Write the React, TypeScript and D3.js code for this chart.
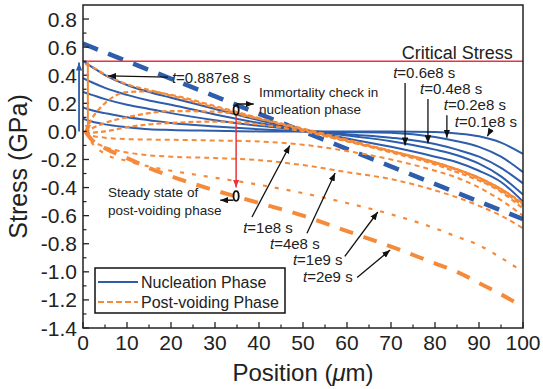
import React from "react";
import * as d3 from "d3";

// x positions (um) where the curves were read
const xsNuc = [0, 2, 5, 10, 15, 20, 30, 40, 50, 60, 70, 80, 85, 90, 95, 100];
const xsPost = [0.5, 2, 5, 10, 15, 20, 30, 40, 50, 60, 70, 80, 85, 90, 95, 100];

// nucleation phase (GPa), t = 0.1e8, 0.2e8, 0.4e8, 0.6e8, 0.887e8 s
const nuc01 = [0.09, 0.07, 0.05, 0.03, 0.015, 0.01, 0.005, 0.0, 0.0, 0.0, 0.0, -0.005, -0.015, -0.035, -0.08, -0.16];
const nuc02 = [0.17, 0.15, 0.13, 0.1, 0.08, 0.06, 0.035, 0.015, 0.0, -0.005, -0.01, -0.04, -0.07, -0.11, -0.18, -0.29];
const nuc04 = [0.28, 0.26, 0.23, 0.19, 0.16, 0.13, 0.08, 0.04, 0.01, -0.02, -0.045, -0.09, -0.13, -0.18, -0.26, -0.37];
const nuc06 = [0.38, 0.35, 0.31, 0.26, 0.22, 0.19, 0.12, 0.06, 0.01, -0.03, -0.07, -0.13, -0.17, -0.23, -0.32, -0.45];
const nuc0887 = [0.5, 0.46, 0.4, 0.33, 0.28, 0.24, 0.16, 0.08, 0.01, -0.05, -0.11, -0.18, -0.22, -0.28, -0.36, -0.5];
const nucleation = [nuc01, nuc02, nuc04, nuc06, nuc0887];

// steady state of nucleation phase
const steadyX = [0, 100];
const steadyNuc = [0.625, -0.625];

// post-voiding phase (GPa)
const postEarly1 = [0.48, 0.46, 0.405, 0.335, 0.295, 0.255, 0.17, 0.09, 0.01, -0.07, -0.14, -0.22, -0.27, -0.33, -0.41, -0.51];
const postEarly2 = [0.0, 0.09, 0.2, 0.28, 0.285, 0.26, 0.18, 0.095, 0.015, -0.065, -0.14, -0.22, -0.27, -0.33, -0.41, -0.52];
const postEarly3 = [-0.01, 0.02, 0.06, 0.1, 0.13, 0.145, 0.14, 0.09, 0.02, -0.06, -0.14, -0.225, -0.275, -0.34, -0.42, -0.53];
const postEarly4 = [-0.02, -0.01, 0.0, 0.03, 0.05, 0.06, 0.07, 0.05, 0.0, -0.07, -0.15, -0.235, -0.29, -0.35, -0.43, -0.55];
const post1e8 = [0, -0.03, -0.045, -0.055, -0.058, -0.06, -0.065, -0.072, -0.095, -0.14, -0.2, -0.28, -0.33, -0.4, -0.49, -0.6];
const post4e8 = [0, -0.06, -0.11, -0.15, -0.17, -0.18, -0.19, -0.205, -0.24, -0.29, -0.34, -0.42, -0.47, -0.53, -0.6, -0.69];
const post1e9 = [0, -0.08, -0.16, -0.21, -0.25, -0.28, -0.33, -0.38, -0.44, -0.51, -0.59, -0.69, -0.75, -0.81, -0.9, -1.0];
const post2e9 = [0, -0.06, -0.12, -0.19, -0.26, -0.32, -0.42, -0.51, -0.6, -0.71, -0.82, -0.94, -1.0, -1.08, -1.16, -1.25];

const criticalStress = 0.5;

const xTicks = [0, 10, 20, 30, 40, 50, 60, 70, 80, 90, 100];
const xMinor = [5, 15, 25, 35, 45, 55, 65, 75, 85, 95];
const yTicks = [-1.4, -1.2, -1.0, -0.8, -0.6, -0.4, -0.2, 0.0, 0.2, 0.4, 0.6, 0.8];
const yMinor = [-1.3, -1.1, -0.9, -0.7, -0.5, -0.3, -0.1, 0.1, 0.3, 0.5, 0.7];

// time labels: text anchor, arrow from, arrow to (data units)
const timeLabels = [
  { t: "=0.887e8 s", at: [20.2, 0.344], from: [19.3, 0.387], to: [5.7, 0.395] },
  { t: "=0.6e8 s", at: [70.5, 0.38], from: [73.2, 0.345], to: [73.2, -0.1] },
  { t: "=0.4e8 s", at: [76.6, 0.266], from: [78.4, 0.23], to: [78.4, -0.085] },
  { t: "=0.2e8 s", at: [82, 0.152], from: [82.7, 0.115], to: [82.7, -0.045] },
  { t: "=0.1e8 s", at: [84.5, 0.031], from: [92.6, 0.005], to: [91.9, -0.035] },
  { t: "=1e8 s", at: [36.4, -0.72], from: [38.4, -0.61], to: [47.0, -0.1] },
  { t: "=4e8 s", at: [42.5, -0.835], from: [50.9, -0.725], to: [57.3, -0.296] },
  { t: "=1e9 s", at: [47.7, -0.952], from: [59.5, -0.89], to: [67.0, -0.574] },
  { t: "=2e9 s", at: [50, -1.072], from: [62.3, -1.04], to: [69.8, -0.845] },
];

const W = 543;
const H = 389;
const BLUE = "#2d5dab";
const ORANGE = "#f58a3a";
const RED = "#e8343f";
const FONT = "'Liberation Sans', Arial, Helvetica, sans-serif";

const x = d3.scaleLinear().domain([0, 100]).range([83, 523]);
const y = d3.scaleLinear().domain([-1.4, 0.9]).range([328, 5]);

const line = (xs: number[], ys: number[]) =>
  d3
    .line<number>()
    .x((_, i) => x(xs[i]))
    .y((d) => y(d))
    .curve(d3.curveMonotoneX)(ys) || "";

const App = () => {
  const postStyles = [
    { d: postEarly1, xs: xsPost, w: 2.2, dash: "5,3" },
    { d: postEarly2, xs: xsPost, w: 2.2, dash: "5,3" },
    { d: postEarly3, xs: xsPost, w: 2.2, dash: "5,3" },
    { d: postEarly4, xs: xsPost, w: 2.2, dash: "5,3" },
    { d: post1e8, xs: xsPost, w: 2, dash: "5,4" },
    { d: post4e8, xs: xsPost, w: 2, dash: "5,4" },
    { d: post1e9, xs: xsPost, w: 2.2, dash: "4,8" },
    { d: post2e9, xs: xsPost, w: 4, dash: "14,11" },
  ];

  const markers = [
    { id: "arrBlack", c: "#111" },
    { id: "arrRed", c: RED },
    { id: "arrBlue", c: BLUE },
    { id: "arrOrange", c: ORANGE },
  ];

  return (
    <svg width={W} height={H} style={{ position: "absolute", left: 0, top: 0, background: "#fff" }} fontFamily={FONT}>
      <defs>
        <clipPath id="plot">
          <rect x={83} y={5} width={440} height={323} />
        </clipPath>
        {markers.map((m) => (
          <marker key={m.id} id={m.id} viewBox="0 0 10 8" refX={10} refY={4} markerWidth={8} markerHeight={6.5} markerUnits="userSpaceOnUse" orient="auto">
            <path d="M0,0 L10,4 L0,8 z" fill={m.c} />
          </marker>
        ))}
      </defs>

      <g clipPath="url(#plot)">
        {nucleation.map((d, i) => (
          <path key={"n" + i} d={line(xsNuc, d)} fill="none" stroke={BLUE} strokeWidth={2} />
        ))}
        <path d={line(steadyX, steadyNuc)} fill="none" stroke={BLUE} strokeWidth={4.5} strokeDasharray="16,11" />
        {postStyles.map((s, i) => (
          <path key={"p" + i} d={line(s.xs, s.d)} fill="none" stroke={ORANGE} strokeWidth={s.w} strokeDasharray={s.dash} />
        ))}
        <line x1={x(0)} x2={x(100)} y1={y(criticalStress)} y2={y(criticalStress)} stroke={RED} strokeWidth={1.5} />
      </g>

      {/* frame */}
      <rect x={83} y={5} width={440} height={323} fill="none" stroke="#222" strokeWidth={1.5} />

      {/* ticks */}
      {xTicks.map((t) => (
        <g key={"xt" + t}>
          <line x1={x(t)} x2={x(t)} y1={328} y2={322} stroke="#222" strokeWidth={1.3} />
          <text x={x(t)} y={350} fontSize={21} textAnchor="middle" fill="#222">{t}</text>
        </g>
      ))}
      {xMinor.map((t) => (
        <line key={"xm" + t} x1={x(t)} x2={x(t)} y1={328} y2={324.5} stroke="#222" strokeWidth={1.2} />
      ))}
      {yTicks.map((t) => (
        <g key={"yt" + t}>
          <line x1={83} x2={89} y1={y(t)} y2={y(t)} stroke="#222" strokeWidth={1.3} />
          <text x={77} y={y(t)} dy="0.36em" fontSize={21} textAnchor="end" fill="#222">{t.toFixed(1)}</text>
        </g>
      ))}
      {yMinor.map((t) => (
        <line key={"ym" + t} x1={83} x2={86.5} y1={y(t)} y2={y(t)} stroke="#222" strokeWidth={1.2} />
      ))}

      {/* axis titles */}
      <text transform={`translate(27,${y(-0.25)}) rotate(-90)`} fontSize={25} textAnchor="middle" fill="#222">Stress (GPa)</text>
      <text x={303} y={381} fontSize={24} textAnchor="middle" fill="#222">
        Position (<tspan fontStyle="italic">μ</tspan>m)
      </text>

      {/* vertical arrows at x=0 */}
      <line x1={x(-0.9)} x2={x(-0.9)} y1={y(0)} y2={y(0.49)} stroke={BLUE} strokeWidth={1.8} markerEnd="url(#arrBlue)" />
      <line x1={x(1.1)} x2={x(1.1)} y1={y(0.5)} y2={y(-0.01)} stroke={ORANGE} strokeWidth={2} markerEnd="url(#arrOrange)" />

      <text x={x(97.7)} y={y(0.516)} fontSize={18} textAnchor="end" fill="#222">Critical Stress</text>

      {/* time labels */}
      {timeLabels.map((l) => (
        <g key={l.t}>
          <line x1={x(l.from[0])} y1={y(l.from[1])} x2={x(l.to[0])} y2={y(l.to[1])} stroke="#111" strokeWidth={1.3} markerEnd="url(#arrBlack)" />
          <text x={x(l.at[0])} y={y(l.at[1])} fontSize={15} fill="#222">
            <tspan fontStyle="italic">t</tspan>{l.t}
          </text>
        </g>
      ))}

      {/* immortality check */}
      <text x={x(40)} y={y(0.245)} fontSize={13.5} fill="#222">Immortality check in</text>
      <text x={x(40)} y={y(0.124)} fontSize={13.5} fill="#222">nucleation phase</text>
      <line x1={x(34.8)} x2={x(34.8)} y1={y(0.115)} y2={y(-0.4)} stroke={RED} strokeWidth={1.5} markerEnd="url(#arrRed)" />
      <ellipse cx={x(34.8)} cy={y(0.152)} rx={2.6} ry={4.8} fill="none" stroke="#111" strokeWidth={1.8} />
      <line x1={x(34.8)} x2={x(38.8)} y1={y(0.195)} y2={y(0.195)} stroke="#111" strokeWidth={1.5} markerEnd="url(#arrBlack)" />

      {/* post-voiding steady state */}
      <text x={x(5.7)} y={y(-0.467)} fontSize={13.5} fill="#222">Steady state of</text>
      <text x={x(5.7)} y={y(-0.595)} fontSize={13.5} fill="#222">post-voiding phase</text>
      <ellipse cx={x(34.8)} cy={y(-0.46)} rx={2.6} ry={4.8} fill="none" stroke="#111" strokeWidth={1.8} />
      <line x1={x(34.2)} x2={x(31.2)} y1={y(-0.49)} y2={y(-0.49)} stroke="#111" strokeWidth={1.5} markerEnd="url(#arrBlack)" />

      {/* legend */}
      <rect x={95} y={268} width={190} height={45} fill="#fff" stroke="#111" strokeWidth={1.5} />
      <line x1={98} x2={138} y1={282} y2={282} stroke={BLUE} strokeWidth={2} />
      <text x={141} y={288} fontSize={16} fill="#222">Nucleation Phase</text>
      <line x1={98} x2={138} y1={302} y2={302} stroke={ORANGE} strokeWidth={2.2} strokeDasharray="6,3" />
      <text x={141} y={308} fontSize={16} fill="#222">Post-voiding Phase</text>
    </svg>
  );
};

export default App;
